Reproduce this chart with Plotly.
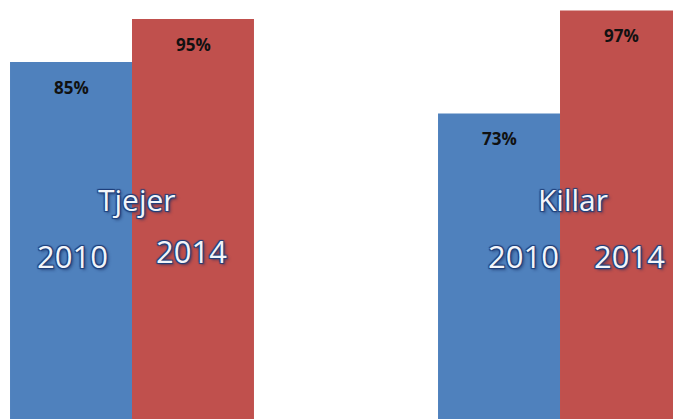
import plotly.graph_objects as go

groups = ["Tjejer", "Killar"]
years = ["2010", "2014"]
values_2010 = [85, 73]
values_2014 = [95, 97]
colors = ["#4F81BD", "#C0504D"]

fig = go.Figure()
for yr, vals, col in zip(years, [values_2010, values_2014], colors):
    fig.add_trace(go.Bar(x=groups, y=vals, name=yr, hoverinfo="skip",
                         marker=dict(color=col, line=dict(width=0))))

outline = ("-1px -1px 1px #1F3F7A, 1px -1px 1px #1F3F7A, -1px 1px 1px #1F3F7A, "
           "1px 1px 1px #1F3F7A, 2px 2px 3px rgba(20,40,90,0.6)")
label_font = dict(family="Open Sans", color="#F2F5FA", shadow=outline)

# label placement (pixel shifts from group centre)
bar_shift = [-61, 61]
group_label_shift = [4.5, 13]
year_label_shift = [[-59.5, 59], [-37, 69]]
year_label_y = [[39.9, 41.0], [39.9, 39.9]]

for gi, g in enumerate(groups):
    for si, vals in enumerate([values_2010, values_2014]):
        fig.add_annotation(x=g, y=vals[gi], xshift=bar_shift[si], yshift=-25,
                           text=f"<b>{vals[gi]}%</b>", showarrow=False,
                           font=dict(family="Open Sans", size=17, color="#111111"))
        fig.add_annotation(x=g, y=year_label_y[gi][si], xshift=year_label_shift[gi][si],
                           text=years[si], showarrow=False, font=dict(size=31, **label_font))
    fig.add_annotation(x=g, y=53.1, xshift=group_label_shift[gi], text=g, showarrow=False,
                       font=dict(size=30, **label_font))

fig.update_layout(
    width=673, height=419,
    margin=dict(l=0, r=0, t=0, b=0),
    paper_bgcolor="white", plot_bgcolor="white",
    barmode="group", bargap=0.43, bargroupgap=0,
    showlegend=False,
    xaxis=dict(range=[-0.3084, 1.264], visible=False),
    yaxis=dict(range=[1.98, 99.42], visible=False),
)
fig.write_html(
    "out.html",
    config={"displayModeBar": False},
    post_script="document.body.style.margin='0';document.documentElement.style.overflow='hidden';",
)
